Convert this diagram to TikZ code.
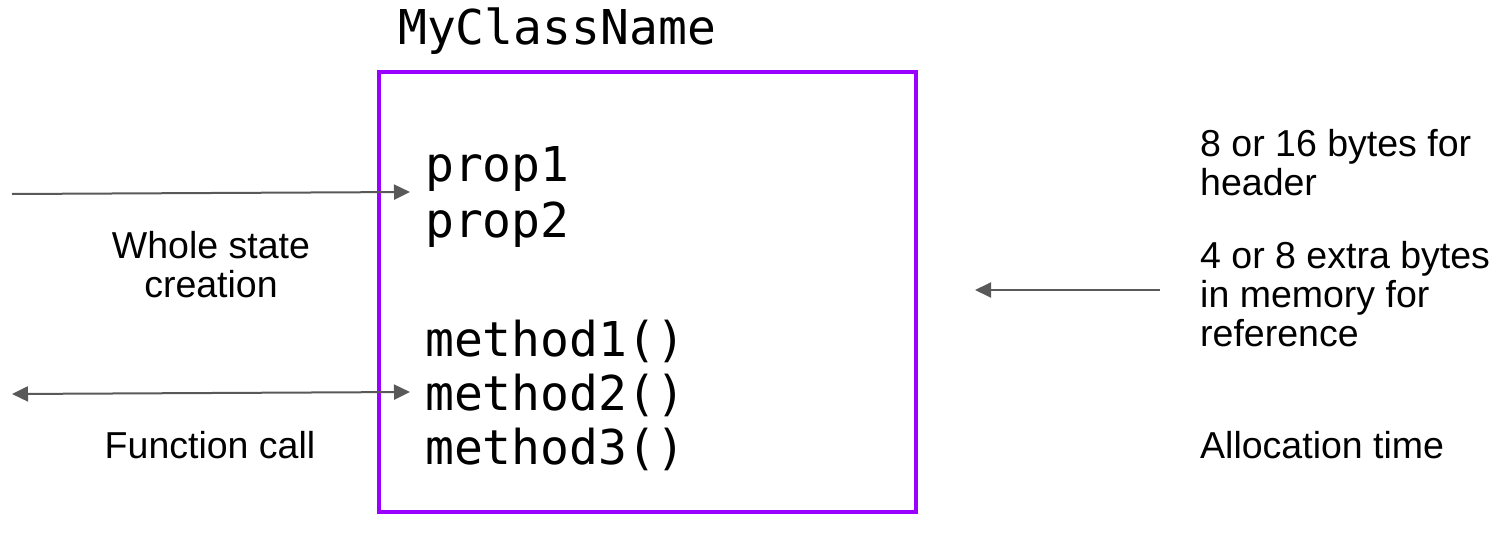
\documentclass[tikz,border=0pt]{standalone}
\usepackage{fontspec}
\setmainfont{Liberation Sans}
\setmonofont{DejaVu Sans Mono}
\usetikzlibrary{arrows.meta}
\definecolor{boxpurple}{HTML}{9900FF}
\definecolor{arrowgray}{HTML}{595959}

\begin{document}
\begin{tikzpicture}[x=1pt,y=-1pt,
  classbox/.style={draw=boxpurple, line width=4pt, inner sep=0pt,
    minimum width=537pt, minimum height=440pt},
  member/.style={anchor=base west, inner sep=0pt,
    font=\ttfamily\fontsize{48}{55}\selectfont},
  note/.style={inner sep=0pt, font=\fontsize{37.5}{39}\selectfont},
  link/.style={draw=arrowgray, line width=2pt,
    -{Triangle[length=16pt,width=15pt]}},
  twoway/.style={link, {Triangle[length=16pt,width=15pt]}-{Triangle[length=16pt,width=15pt]}}]
\useasboundingbox (0,0) rectangle (1506,535);

% class box and its title
\node[classbox] (box) at (647.5,292) {};
\node[member] (title) at (398,45) {MyClassName};

% members
\node[member] (prop1) at (425,181) {prop1};
\node[member] (prop2) at (425,237) {prop2};
\node[member] (m1) at (425,356) {method1()};
\node[member] (m2) at (425,410) {method2()};
\node[member] (m3) at (425,464) {method3()};

% left side notes
\node[note, align=center] (state) at (211,265) {Whole state\\creation};
\node[note] (fcall) at (210,445) {Function call};

% right side notes
\node[note, align=left, anchor=west] (header) at (1200,163) {8 or 16 bytes for\\header};
\node[note, align=left, anchor=west] (extra) at (1200,294) {4 or 8 extra bytes\\in memory for\\reference};
\node[note, anchor=west] (alloc) at (1200,445) {Allocation time};

% connectors
\coordinate (inL) at (12,194);
\coordinate (inR) at (410,192);
\coordinate (callL) at (12,394);
\coordinate (callR) at (410,392);
\coordinate (refR) at (1160,290);
\coordinate (refL) at (975,290);

\draw[link] (inL) -- (inR);
\draw[twoway] (callL) -- (callR);
\draw[link] (refR) -- (refL);
\end{tikzpicture}
\end{document}
